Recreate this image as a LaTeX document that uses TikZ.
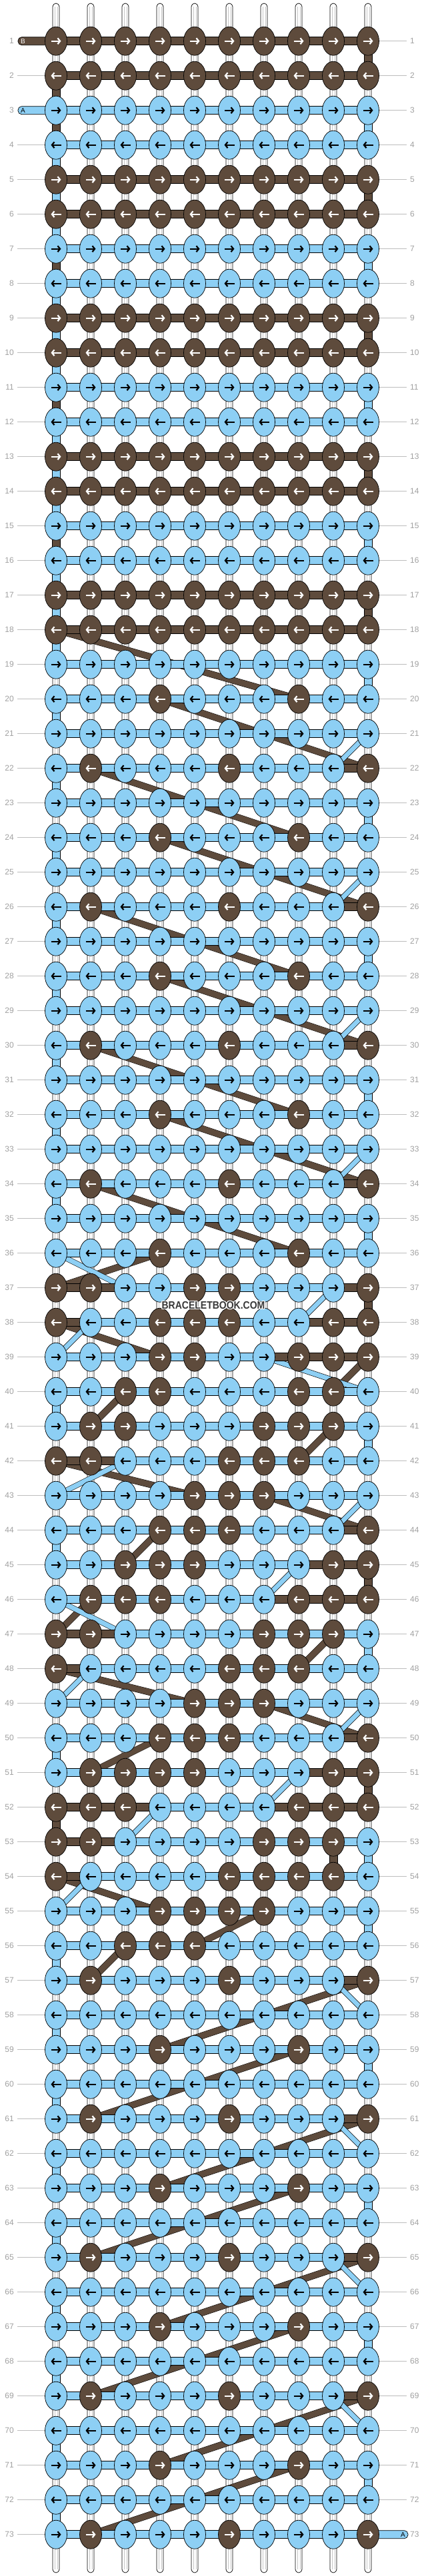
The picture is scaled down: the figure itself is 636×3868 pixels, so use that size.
\documentclass[tikz,border=0pt]{standalone}
\usepackage{fontspec}
\setmainfont{Liberation Sans}
\usetikzlibrary{arrows.meta, shapes.geometric}

\definecolor{thB}{HTML}{5E4B3C}
\definecolor{thA}{HTML}{8DCFF4}
\definecolor{rowgray}{HTML}{A0A0A0}

\pgfdeclarelayer{tubes}
\pgfdeclarelayer{diag}
\pgfdeclarelayer{segs}
\pgfsetlayers{tubes,diag,segs,main}

\begin{document}
\begin{tikzpicture}[x=1pt, y=-1pt,
knot/.style  = {ellipse, draw, line width=0.7pt, fill=#1,
                minimum width=33pt, minimum height=43pt, inner sep=0pt},
arr/.style   = {draw=#1, line width=2.2pt, -{Straight Barb[length=3.6pt, width=9pt]}},
seg/.style   = {draw, line width=0.7pt, fill=#1},
diagB/.style = {draw=black, line width=0.5pt, double=thB, double distance=9pt},
diagA/.style = {draw=black, line width=0.6pt, double=thA, double distance=7pt},
tube/.style  = {draw, line width=0.7pt, fill=white, rounded corners=5pt},
lbl/.style   = {text=rowgray, font=\fontsize{12}{12}\selectfont, inner sep=0pt},
rowline/.style = {draw=rowgray!70, line width=0.8pt},
sitemark/.style = {font=\bfseries\fontsize{16}{16}\selectfont, inner sep=0pt}
                    ]
\useasboundingbox (0,0) rectangle (636,3868);
% brown knots, row/columns
\foreach \r/\kl in {1/{1,...,10}, 2/{1,...,10}, 5/{1,...,10}, 6/{1,...,10},
    9/{1,...,10}, 10/{1,...,10}, 13/{1,...,10}, 14/{1,...,10}, 17/{1,...,10}, 18/{1,...,10},
    20/{4,8}, 22/{2,6,10}, 24/{4,8}, 26/{2,6,10}, 28/{4,8}, 30/{2,6,10}, 32/{4,8},
    34/{2,6,10}, 36/{4,8}, 37/{1,2,5,6,10}, 38/{1,4,5,6,9,10}, 39/{4,5,8,9,10},
    40/{3,4,8,9}, 41/{2,3,7,8,9}, 42/{1,2,6,7,8}, 43/{5,6,7}, 44/{4,5,6,10},
    45/{3,4,5,9,10}, 46/{2,3,4,8,9,10}, 47/{1,2,7,8,9}, 48/{1,6,7,8}, 49/{5,6,7},
    50/{4,5,6,10}, 51/{2,3,4,5,9,10}, 52/{1,2,3,8,9,10}, 53/{1,2,7,8,9},
    54/{1,6,7,8,9}, 55/{4,5,6,7}, 56/{3,4,5}, 57/{2,6,10}, 59/{4,8}, 61/{2,6,10},
    63/{4,8}, 65/{2,6,10}, 67/{4,8}, 69/{2,6,10}, 71/{4,8}, 73/{2,6,10}}
  \foreach \c in \kl {\expandafter\gdef\csname bk-\r-\c\endcsname{}};
% brown pieces of the row threads
\foreach \r/\sl in {1/{1,...,9}, 2/{1,...,9}, 5/{1,...,9}, 6/{1,...,9}, 9/{1,...,9},
    10/{1,...,9}, 13/{1,...,9}, 14/{1,...,9}, 17/{1,...,9}, 18/{1,...,9},
    22/{9}, 26/{9}, 30/{9}, 34/{9}, 37/{1,2,9}, 38/{1,8,9}, 39/{7,8,9}, 42/{1,2},
    44/{9}, 45/{8,9}, 46/{7,8,9}, 47/{1,2}, 48/{1}, 50/{9}, 51/{8,9},
    52/{1,2,3,7,8,9}, 53/{1,2}, 54/{1}, 57/{9}, 61/{9}, 65/{9}, 69/{9}}
  \foreach \c in \sl {\expandafter\gdef\csname bs-\r-\c\endcsname{}};

% knots
\foreach \r in {1,...,73}
  \foreach \c in {1,...,10} {
    \ifcsname bk-\r-\c\endcsname \def\kc{thB}\def\ac{white}\else \def\kc{thA}\def\ac{black}\fi
    \node[knot=\kc] (k-\r-\c) at ({32+52*\c},{9.7+52*\r}) {};
    \ifodd\r
      \draw[arr=\ac] ([xshift=-7.5pt]k-\r-\c.center) -- ([xshift=7.5pt]k-\r-\c.center);
    \else
      \draw[arr=\ac] ([xshift=7.5pt]k-\r-\c.center) -- ([xshift=-7.5pt]k-\r-\c.center);
    \fi
  }

% row numbers
\foreach \r in {1,...,73} {
  \node[lbl, anchor=east] (ln-\r) at (21,{9.7+52*\r}) {\r};
  \node[lbl, anchor=west] (rn-\r) at (615,{9.7+52*\r}) {\r};
  \ifnum\r=1 \else\ifnum\r=3 \else
    \draw[rowline] (26,{9.7+52*\r}) -- (k-\r-1.west);
  \fi\fi
  \ifnum\r=73 \else
    \draw[rowline] (k-\r-10.east) -- (610,{9.7+52*\r});
  \fi
}

% site mark, white halo then text
\foreach \dx/\dy [count=\i] in {1.2/0, -1.2/0, 0/1.2, 0/-1.2, 0.9/0.9, -0.9/0.9, 0.9/-0.9, -0.9/-0.9}
  \node[sitemark, text=white] (wmh-\i) at ({320+\dx},{1960+\dy}) {\scalebox{0.875}[1]{BRACELETBOOK.COM}};
\node[sitemark, text=black!78] (wm) at (320,1960) {\scalebox{0.875}[1]{BRACELETBOOK.COM}};

\begin{pgfonlayer}{segs}
\foreach \r in {1,...,73}
  \foreach \c in {1,...,9} {
    \pgfmathtruncatemacro\n{\c+1}
    \ifcsname bs-\r-\c\endcsname \def\sc{thB}\else \def\sc{thA}\fi
    \draw[seg=\sc] ([yshift=6pt]k-\r-\c.center) rectangle ([yshift=-6pt]k-\r-\n.center);
  }
% threads turning down at the edges
\foreach \r/\c/\col in {1/10/thB, 2/1/thB, 3/1/thB, 5/10/thB, 7/1/thB, 9/10/thB,
    11/1/thB, 13/10/thB, 15/1/thB, 17/10/thB, 37/10/thB, 45/10/thB, 51/10/thB,
    52/1/thB, 53/9/thB,
    3/10/thA, 7/10/thA, 11/10/thA, 15/10/thA, 19/10/thA, 23/10/thA, 27/10/thA,
    31/10/thA, 35/10/thA, 41/10/thA, 47/10/thA, 53/10/thA, 55/10/thA, 59/10/thA,
    63/10/thA, 67/10/thA, 71/10/thA,
    4/1/thA, 5/1/thA, 6/1/thA, 8/1/thA, 9/1/thA, 10/1/thA, 12/1/thA, 13/1/thA,
    14/1/thA, 16/1/thA, 17/1/thA, 18/1/thA, 20/1/thA, 22/1/thA, 24/1/thA,
    26/1/thA, 28/1/thA, 30/1/thA, 32/1/thA, 34/1/thA, 40/1/thA, 44/1/thA,
    50/1/thA, 56/1/thA, 58/1/thA, 60/1/thA, 62/1/thA, 64/1/thA, 66/1/thA,
    68/1/thA, 70/1/thA, 72/1/thA} {
  \pgfmathtruncatemacro\n{\r+1}
  \draw[seg=\col] ([xshift=-6pt]k-\r-\c.center) rectangle ([xshift=6pt]k-\n-\c.center);
}
% loose ends
\coordinate (endB) at (27,61.7);
\coordinate (endA) at (27,165.7);
\coordinate (endA2) at (612,3805.7);
\draw[seg=thB, rounded corners=5.5pt] ([yshift=6pt]endB) rectangle ([yshift=-6pt]k-1-1.center);
\draw[seg=thA, rounded corners=5.5pt] ([yshift=6pt]endA) rectangle ([yshift=-6pt]k-3-1.center);
\draw[seg=thA, rounded corners=5.5pt] ([yshift=6pt]k-73-10.center) rectangle ([yshift=-6pt]endA2);
\node[font=\fontsize{10}{10}\selectfont, text=white] (endB-l) at (34.5,61.7) {B};
\node[font=\fontsize{10}{10}\selectfont] (endA-l) at (34.5,165.7) {A};
\node[font=\fontsize{10}{10}\selectfont] (endA2-l) at (604.5,3805.7) {A};
\end{pgfonlayer}

\begin{pgfonlayer}{diag}
\foreach \ra/\ca/\rb/\cb in {18/1/20/8, 20/4/22/10, 22/2/24/8, 24/4/26/10, 26/2/28/8,
    28/4/30/10, 30/2/32/8, 32/4/34/10, 34/2/36/8, 36/4/37/1, 38/1/39/4, 39/10/40/9,
    40/3/41/2, 41/9/42/8, 42/1/43/5, 43/7/44/10, 44/4/45/3, 46/2/47/1, 47/9/48/8,
    48/1/49/5, 49/7/50/10, 50/4/51/2, 54/1/55/4, 55/7/56/5, 56/3/57/2, 57/10/59/4,
    59/8/61/2, 61/10/63/4, 63/8/65/2, 65/10/67/4, 67/8/69/2, 69/10/71/4, 71/8/73/2}
  \draw[diagB] (k-\ra-\ca.center) -- (k-\rb-\cb.center);
\foreach \ra/\ca/\rb/\cb in {21/10/22/9, 25/10/26/9, 29/10/30/9, 33/10/34/9, 36/1/37/3,
    37/9/38/8, 38/2/39/1, 39/7/40/10, 42/3/43/1, 43/10/44/9, 45/8/46/7, 46/1/47/3,
    48/2/49/1, 49/10/50/9, 51/8/52/7, 52/4/53/3, 54/2/55/1, 57/9/58/10, 61/9/62/10,
    65/9/66/10, 69/9/70/10}
  \draw[diagA] (k-\ra-\ca.center) -- (k-\rb-\cb.center);
\end{pgfonlayer}

\begin{pgfonlayer}{tubes}
\foreach \c in {1,...,10} {
  \coordinate (top-\c) at ({32+52*\c},5);
  \coordinate (bot-\c) at ({32+52*\c},3863);
  \draw[tube] ([xshift=-5pt]top-\c) rectangle ([xshift=5pt]bot-\c);
  \draw[gray!45, line width=0.5pt] ([xshift=-1.8pt,yshift=-5pt]top-\c) -- ([xshift=-1.8pt,yshift=5pt]bot-\c);
  \draw[gray!45, line width=0.5pt] ([xshift=1.8pt,yshift=-5pt]top-\c) -- ([xshift=1.8pt,yshift=5pt]bot-\c);
}
\end{pgfonlayer}
\end{tikzpicture}
\end{document}
